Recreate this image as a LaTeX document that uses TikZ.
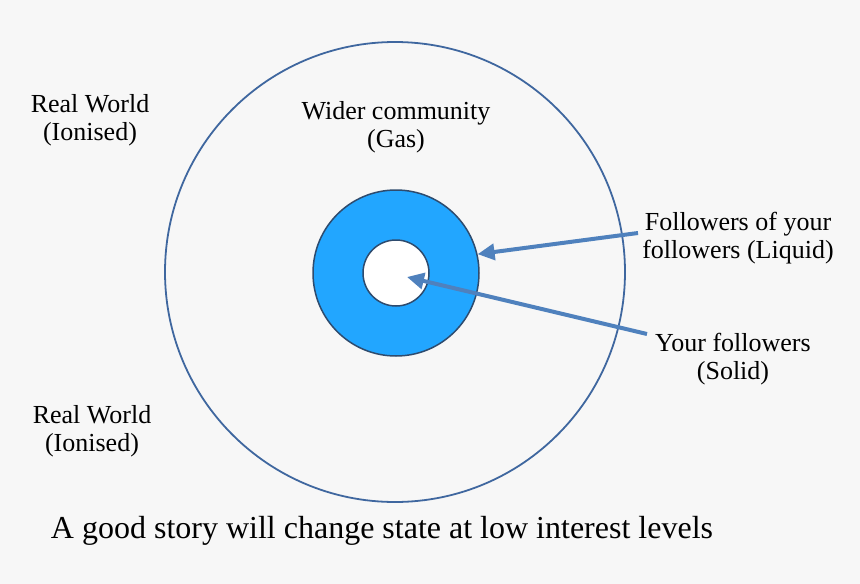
\documentclass[tikz,border=0pt]{standalone}
\usepackage{fontspec}
\setmainfont{Liberation Serif}
\usetikzlibrary{arrows.meta}
\definecolor{bgcol}{HTML}{F7F7F7}
\definecolor{rimcol}{HTML}{3F679F}
\definecolor{ringcol}{HTML}{22A6FF}
\definecolor{edgecol}{HTML}{2E4B6E}
\definecolor{arrowcol}{HTML}{4F81BD}
\tikzstyle{statetext} = [align=center, font=\fontsize{26}{28}\selectfont]
\tikzstyle{pointer} = [arrowcol, line width=4pt, -{Triangle[length=17pt,width=16pt]}]
\tikzstyle{disc} = [circle, line width=1.5pt, draw=edgecol]

\begin{document}
\begin{tikzpicture}[x=1pt,y=-1pt,every node/.style={inner sep=0pt}]
			\fill[bgcol] (0,0) rectangle (860,584);
			\node[disc, draw=rimcol, line width=1.8pt, minimum size=460pt] (gas) at (395,272) {};
			\node[disc, fill=ringcol, minimum size=166pt] (ring) at (396,273) {};
			\node[disc, fill=white, minimum size=66pt] (core) at (396,273) {};
			\node[statetext] (worldtop) at (90,120) {Real World\\(Ionised)};
			\node[statetext] (worldlow) at (92,431) {Real World\\(Ionised)};
			\node[statetext] (gastext) at (396,127) {Wider community\\(Gas)};
			\node[statetext] (liqtext) at (738,238) {Followers of your\\followers (Liquid)};
			\node[statetext] (soltext) at (733,359) {Your followers\\(Solid)};
			\node[font=\fontsize{32}{36}\selectfont] (story) at (382,531) {A good story will change state at low interest levels};
			\coordinate (liqstart) at (638,233);
			\coordinate (solstart) at (647,334);
			\coordinate (soltip) at (407,277);
			\draw [pointer] (liqstart) -- (ring.13);
			\draw [pointer] (solstart) -- (soltip);
		\end{tikzpicture}
\end{document}
